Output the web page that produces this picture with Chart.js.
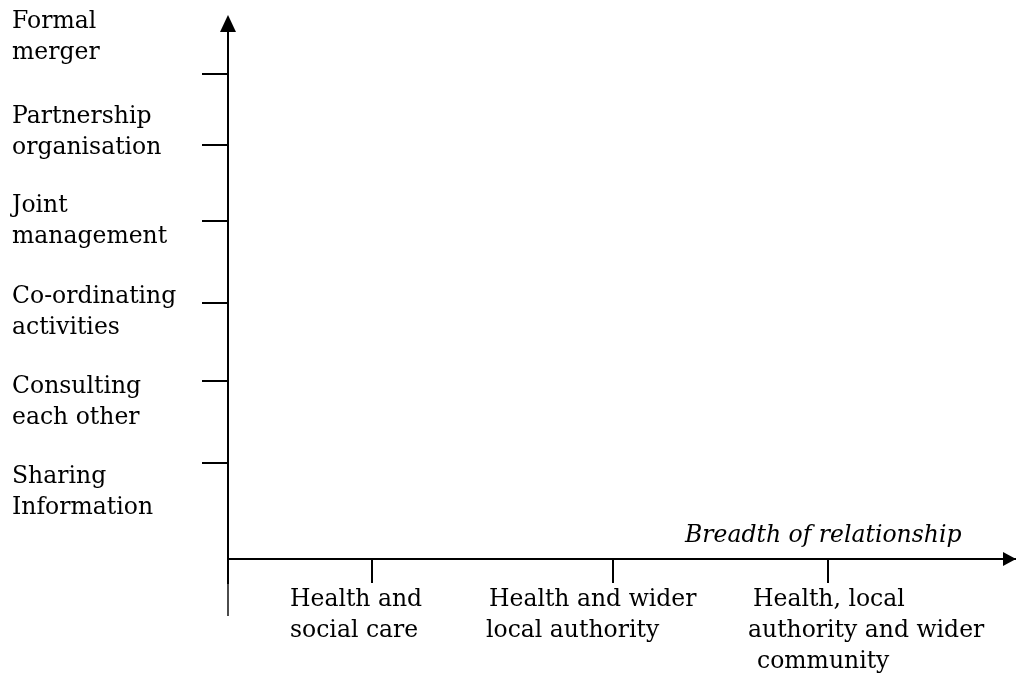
<!DOCTYPE html>
<html>
<head>
<meta charset="utf-8">
<script src="https://cdn.jsdelivr.net/npm/chart.js@4"></script>
<style>
  html, body { margin: 0; padding: 0; background: #fff; }
  #wrap { width: 1016px; height: 677px; }
</style>
</head>
<body>
<div id="wrap"><canvas id="depthChart"></canvas></div>
<script>
// depth of relationship (y) and where its ticks sit
const levelNames = [
    ['Sharing', 'Information'],
    ['Consulting', 'each other'],
    ['Co-ordinating', 'activities'],
    ['Joint', 'management'],
    ['Partnership', 'organisation'],
    ['Formal', 'merger']
];
const levelTicks = [1.22, 2.27, 3.27, 4.31, 5.28, 6.19];

// breadth of relationship (x)
const breadthNames = [
    ['Health and', 'social care'],
    ['Health and wider', 'local authority'],
    ['Health, local', 'authority and wider', 'community']
];
const breadthTicks = [1.83, 4.88, 7.62];

const xTitle = 'Breadth of relationship';

// layout only: where the text blocks sit (first line centre, in axis units)
const levelLabelAt = [1.05, 2.19, 3.34, 4.5, 5.64, 6.85];
const breadthLineX = [[290, 290], [489, 486], [753, 748, 757]];

const FONT = '23.5px "DejaVu Serif", Georgia, serif';

const labelsPlugin = {
    id: 'labels',
    afterDraw(chart) {
        const c = chart.ctx;
        const xs = chart.scales.x, ys = chart.scales.y;
        const left = xs.left, bottom = ys.bottom;
        c.save();
        c.fillStyle = '#000';
        c.strokeStyle = '#000';

        // y axis carries on below the x axis
        c.lineWidth = 2;
        c.beginPath();
        c.moveTo(left, bottom);
        c.lineTo(left, 584);
        c.stroke();
        c.lineWidth = 1.4;
        c.beginPath();
        c.moveTo(left, 584);
        c.lineTo(left, 616);
        c.stroke();

        // arrow heads
        c.beginPath();
        c.moveTo(left, 15);
        c.lineTo(left - 8, 32);
        c.lineTo(left + 8, 32);
        c.closePath();
        c.fill();
        c.beginPath();
        c.moveTo(1016, bottom);
        c.lineTo(1003, bottom - 7);
        c.lineTo(1003, bottom + 7);
        c.closePath();
        c.fill();

        c.font = FONT;
        c.textBaseline = 'middle';
        c.textAlign = 'left';
        levelNames.forEach((lines, i) => {
            const y0 = ys.getPixelForValue(levelLabelAt[i]);
            lines.forEach((t, j) => c.fillText(t, 12, y0 + j * 31));
        });
        breadthNames.forEach((lines, i) => {
            lines.forEach((t, j) => c.fillText(t, breadthLineX[i][j], 600 + j * 31));
        });

        c.font = 'italic ' + FONT;
        c.fillText(xTitle, 685, 536);
        c.restore();
    }
};

new Chart(document.getElementById('depthChart'), {
    type: 'scatter',
    data: { datasets: [{ data: [], pointRadius: 0 }] },
    options: {
        responsive: true,
        maintainAspectRatio: false,
        animation: false,
        layout: { padding: { left: 202, top: 18, right: 0, bottom: 94 } },
        plugins: { legend: { display: false }, tooltip: { enabled: false } },
        scales: {
            x: {
                type: 'linear', min: 0, max: 10,
                afterBuildTicks: s => { s.ticks = breadthTicks.map(v => ({ value: v })); },
                ticks: { display: false },
                grid: { drawOnChartArea: false, tickLength: 24, color: '#000', lineWidth: 2 },
                border: { color: '#000', width: 2 }
            },
            y: {
                type: 'linear', min: 0, max: 6.9,
                afterBuildTicks: s => { s.ticks = levelTicks.map(v => ({ value: v })); },
                ticks: { display: false },
                grid: { drawOnChartArea: false, tickLength: 26, color: '#000', lineWidth: 2 },
                border: { color: '#000', width: 2 }
            }
        }
    },
    plugins: [labelsPlugin]
});
</script>
</body>
</html>
